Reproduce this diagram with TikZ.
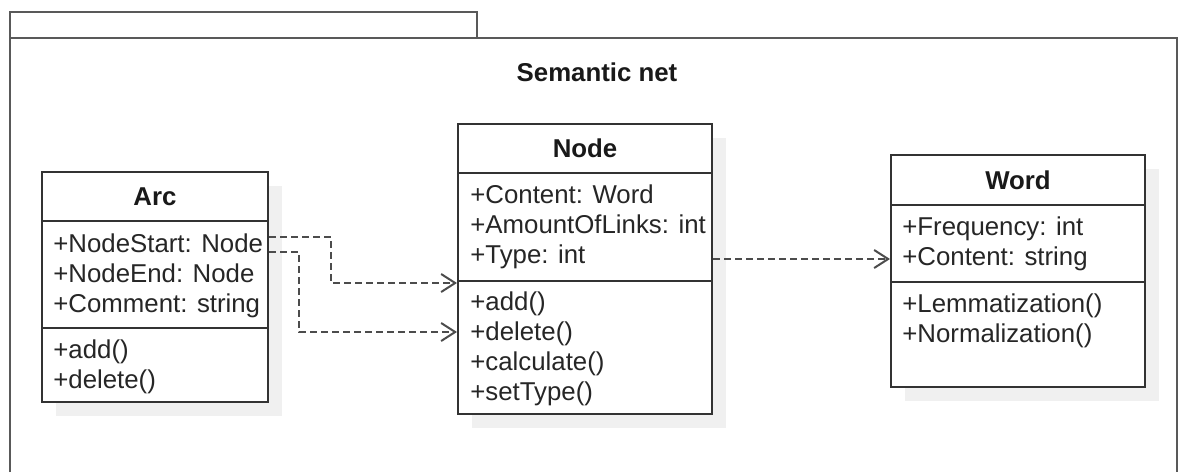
\documentclass[tikz,border=0pt]{standalone}
\usepackage{fontspec}
\setmainfont{Liberation Sans}
\usetikzlibrary{arrows.meta,fit,shadows}

\tikzset{
  frame/.style={draw=black!65, line width=1pt},
  classbox/.style={draw=black!80, line width=1pt, fill=white, inner sep=0pt,
    drop shadow={shadow xshift=7pt, shadow yshift=-7pt, fill=black!6, opacity=1}},
  classline/.style={draw=black!80, line width=1pt},
  classname/.style={font=\bfseries\fontsize{12.9}{15}\selectfont, anchor=base, inner sep=0pt, text=black!90},
  member/.style={font=\fontsize{12.9}{15}\selectfont, anchor=base west, inner sep=0pt, text=black!85},
  dep/.style={draw=black!70, line width=1pt, dash pattern=on 3.5pt off 2pt,
    -{Straight Barb[length=7pt,width=9pt]}},
}

\begin{document}
\begin{tikzpicture}[x=0.5pt, y=-0.5pt]
  \useasboundingbox (0,0) rectangle (1178,472);
  % package frame and its tab
  \draw[frame] (10,472) -- (10,38) -- (1177,38) -- (1177,472);
  \draw[frame] (10,38) -- (10,12) -- (477,12) -- (477,38);
  \node[classname] (title) at (597,81) {Semantic net};

  % class boxes
  \node[classbox, fit={(42,172) (268,402)}] (arc) {};
  \node[classbox, fit={(458,124) (712,414)}] (nodeclass) {};
  \node[classbox, fit={(891,155) (1145,387)}] (word) {};

  \draw[classline] (arc.west |- 0,221) -- (arc.east |- 0,221);
  \draw[classline] (arc.west |- 0,328) -- (arc.east |- 0,328);
  \draw[classline] (nodeclass.west |- 0,173) -- (nodeclass.east |- 0,173);
  \draw[classline] (nodeclass.west |- 0,281) -- (nodeclass.east |- 0,281);
  \draw[classline] (word.west |- 0,205) -- (word.east |- 0,205);
  \draw[classline] (word.west |- 0,282) -- (word.east |- 0,282);

  \node[classname] (arcname) at (arc.north |- 0,205) {Arc};
  \node[classname] (nodename) at (nodeclass.north |- 0,157) {Node};
  \node[classname] (wordname) at (word.north |- 0,189) {Word};

  % attributes and operations
  \foreach \txt [count=\i] in {+NodeStart: Node, +NodeEnd: Node, +Comment: string}
    \node[member] (arcattr\i) at (53, 222+30*\i) {\txt};
  \foreach \txt [count=\i] in {+add(), +delete()}
    \node[member] (arcop\i) at (53, 328+30*\i) {\txt};
  \foreach \txt [count=\i] in {+Content: Word, +AmountOfLinks: int, +Type: int}
    \node[member] (nodeattr\i) at (470, 173+30*\i) {\txt};
  \foreach \txt [count=\i] in {+add(), +delete(), +calculate(), +setType()}
    \node[member] (nodeop\i) at (470, 280+30*\i) {\txt};
  \foreach \txt [count=\i] in {+Frequency: int, +Content: string}
    \node[member] (wordattr\i) at (902, 205+30*\i) {\txt};
  \foreach \txt [count=\i] in {+Lemmatization(), +Normalization()}
    \node[member] (wordop\i) at (902, 282+30*\i) {\txt};

  % dependencies
  \draw[dep] ([yshift=25pt]arc.east) -- ++(62,0) |- ([yshift=-7pt]nodeclass.west);
  \draw[dep] ([yshift=17.5pt]arc.east) -- ++(30,0) |- ([yshift=-31.5pt]nodeclass.west);
  \draw[dep] ([yshift=5pt]nodeclass.east) coordinate (typeout) -- (typeout -| word.west);
\end{tikzpicture}
\end{document}
